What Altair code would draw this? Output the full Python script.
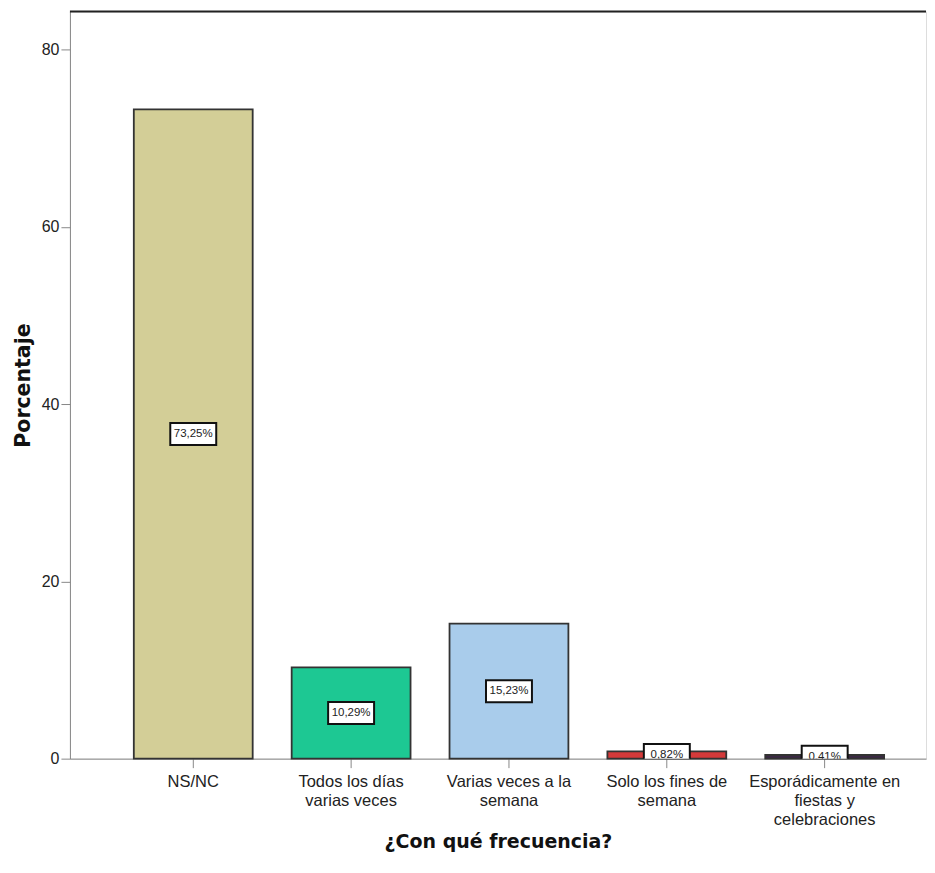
import json
import altair as alt
import pandas as pd

categories = [
    "NS/NC",
    "Todos los días varias veces",
    "Varias veces a la semana",
    "Solo los fines de semana",
    "Esporádicamente en fiestas y celebraciones",
]
label_lines = [
    ["NS/NC"],
    ["Todos los días", "varias veces"],
    ["Varias veces a la", "semana"],
    ["Solo los fines de", "semana"],
    ["Esporádicamente en", "fiestas y", "celebraciones"],
]
values = [73.25, 10.29, 15.23, 0.82, 0.41]
value_labels = ["73,25%", "10,29%", "15,23%", "0,82%", "0,41%"]
colors = ["#D3CE97", "#1DC893", "#A9CCEB", "#D43A3A", "#3B2845"]
y_ticks = [0, 20, 40, 60, 80]

df = pd.DataFrame({"cat": categories, "value": values, "lab": value_labels})

W, H = 857, 748

label_expr = "{}[indexof({}, datum.label)]".format(
    json.dumps(label_lines, ensure_ascii=False), json.dumps(categories, ensure_ascii=False)
)

x_enc = alt.X(
    "cat:N",
    sort=categories,
    scale=alt.Scale(paddingInner=0.247, paddingOuter=0.335, align=0.604),
    axis=alt.Axis(
        title="¿Con qué frecuencia?",
        labelAngle=0,
        labelExpr=label_expr,
        labelFont="Liberation Sans",
        labelFontSize=16.5,
        labelLineHeight=19,
        labelColor="#222",
        labelPadding=6,
        labelLimit=300,
        tickSize=9,
        titleFont="DejaVu Sans",
        titleFontWeight="bold",
        titleFontSize=19,
        titlePadding=4,
        titleColor="#111",
    ),
)
y_scale = alt.Scale(domain=[0, 84.3], nice=False, zero=True)

bars = alt.Chart(df).mark_bar(stroke="#333333", strokeWidth=1.8, opacity=1).encode(
    x=x_enc,
    y=alt.Y(
        "value:Q",
        scale=y_scale,
        axis=alt.Axis(
            title="Porcentaje",
            values=y_ticks,
            grid=False,
            labelFont="Liberation Sans",
            labelFontSize=16,
            labelColor="#222",
            labelPadding=2,
            tickSize=9,
            titleFont="DejaVu Sans",
            titleFontWeight="bold",
            titleFontSize=20.5,
            titlePadding=8,
            titleColor="#111",
        ),
    ),
    color=alt.Color("cat:N", scale=alt.Scale(domain=categories, range=colors), legend=None),
)

boxes = alt.Chart(df).transform_calculate(mid="datum.value / 2").mark_point(
    shape="M-2.3,-1.1L2.3,-1.1L2.3,1.1L-2.3,1.1Z",
    size=400,
    filled=True,
    fill="white",
    stroke="#111",
    strokeWidth=2,
    opacity=1,
    clip=True,
).encode(
    x=alt.X("cat:N", sort=categories),
    y=alt.Y("mid:Q", scale=y_scale),
)

texts = alt.Chart(df).transform_calculate(mid="datum.value / 2").mark_text(
    font="Liberation Sans",
    fontSize=11.5,
    color="#222",
    baseline="middle",
    align="center",
    clip=True,
).encode(
    x=alt.X("cat:N", sort=categories),
    y=alt.Y("mid:Q", scale=y_scale),
    text="lab:N",
)

top_rule = alt.Chart(pd.DataFrame({"a": [0]})).mark_rule(color="#222", strokeWidth=2).encode(
    x=alt.value(0), x2=alt.value(W), y=alt.value(0)
)

chart = (
    alt.layer(bars, boxes, texts, top_rule)
    .properties(width=W, height=H, padding={"left": 5, "top": 2, "right": 0, "bottom": 5})
    .configure_view(fill="#EFEFEF", stroke=None)
    .configure_axis(domainColor="#222", domainWidth=1.6, tickColor="#222", tickWidth=1.5)
    .configure(background="white")
)

chart.save("out.html", embed_options={"renderer": "svg", "actions": False})
